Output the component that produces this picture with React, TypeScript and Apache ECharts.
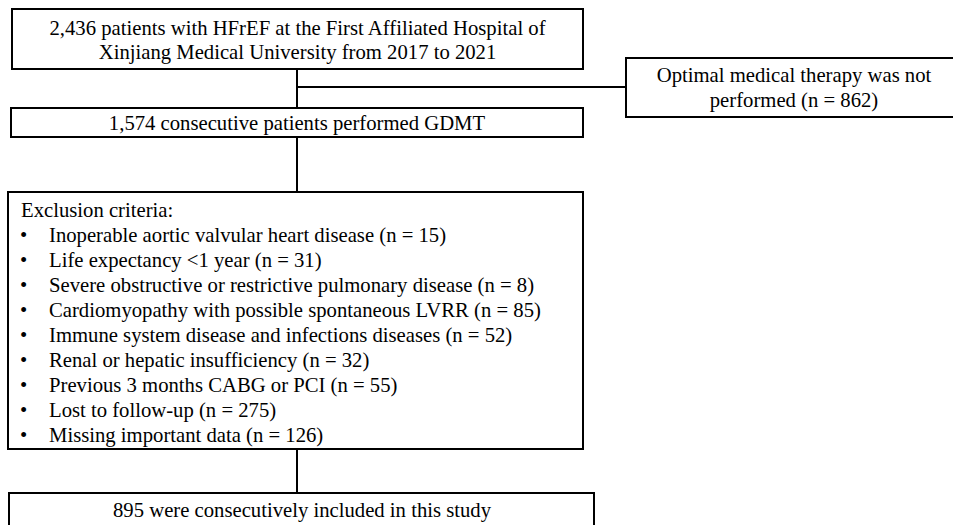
import React, { useEffect, useRef } from "react";
import * as echarts from "echarts";

const topBoxLines = [
  "2,436 patients with HFrEF at the First Affiliated Hospital of",
  "Xinjiang Medical University from 2017 to 2021",
];
const sideBoxLines = ["Optimal medical therapy was not", "performed (n = 862)"];
const gdmtText = "1,574 consecutive patients performed GDMT";
const exclusionTitle = "Exclusion criteria:";
const exclusionLabels = [
  "Inoperable aortic valvular heart disease",
  "Life expectancy <1 year",
  "Severe obstructive or restrictive pulmonary disease",
  "Cardiomyopathy with possible spontaneous LVRR",
  "Immune system disease and infections diseases",
  "Renal or hepatic insufficiency",
  "Previous 3 months CABG or PCI",
  "Lost to follow-up",
  "Missing important data",
];
const exclusionCounts = [15, 31, 8, 85, 52, 32, 55, 275, 126];
const finalText = "895 were consecutively included in this study";

const FONT = "'Liberation Serif', 'Times New Roman', serif";
const FS = 20.7;

export default function App() {
  const ref = useRef<HTMLDivElement>(null);
  useEffect(() => {
    if (!ref.current) return;
    const chart = echarts.init(ref.current, null, { renderer: "svg" });
    const stroke = { stroke: "#000", lineWidth: 2 };
    const box = (x1: number, y1: number, x2: number, y2: number) => ({
      type: "rect",
      shape: { x: x1, y: y1, width: x2 - x1, height: y2 - y1 },
      style: { fill: "#fff", ...stroke },
    });
    const line = (x1: number, y1: number, x2: number, y2: number) => ({
      type: "line",
      shape: { x1, y1, x2, y2 },
      style: { ...stroke },
    });
    const text = (x: number, y: number, t: string, align = "center", lh = 24) => ({
      type: "text",
      x,
      y,
      style: {
        text: t,
        fill: "#000",
        font: `${FS}px ${FONT}`,
        align,
        verticalAlign: "middle",
        lineHeight: lh,
      },
    });

    const elements: any[] = [
      line(297, 69, 297, 108),
      line(297, 87, 626, 87),
      line(297, 137, 297, 192),
      line(297, 449, 297, 493),
      box(12, 9, 583, 69),
      text(297.5, 39.5, topBoxLines.join("\n")),
      box(626, 58, 962, 117),
      text(794, 87.5, sideBoxLines.join("\n"), "center", 25),
      box(11, 108, 583, 137),
      text(297, 122.5, gdmtText),
      box(8, 192, 583, 449),
      text(21, 210, exclusionTitle, "left"),
      box(9, 493, 594, 540),
      text(302, 510, finalText),
    ];
    exclusionLabels.forEach((lab, i) => {
      const y = 235 + i * 25;
      elements.push(text(20, y, "•", "left"));
      elements.push(text(49, y, `${lab} (n = ${exclusionCounts[i]})`, "left"));
    });

    chart.setOption({
      animation: false,
      backgroundColor: "#fff",
      graphic: { elements },
    });
    return () => chart.dispose();
  }, []);
  return (
    <div
      ref={ref}
      style={{ position: "fixed", left: 0, top: 0, width: 953, height: 525, background: "#fff" }}
    />
  );
}
